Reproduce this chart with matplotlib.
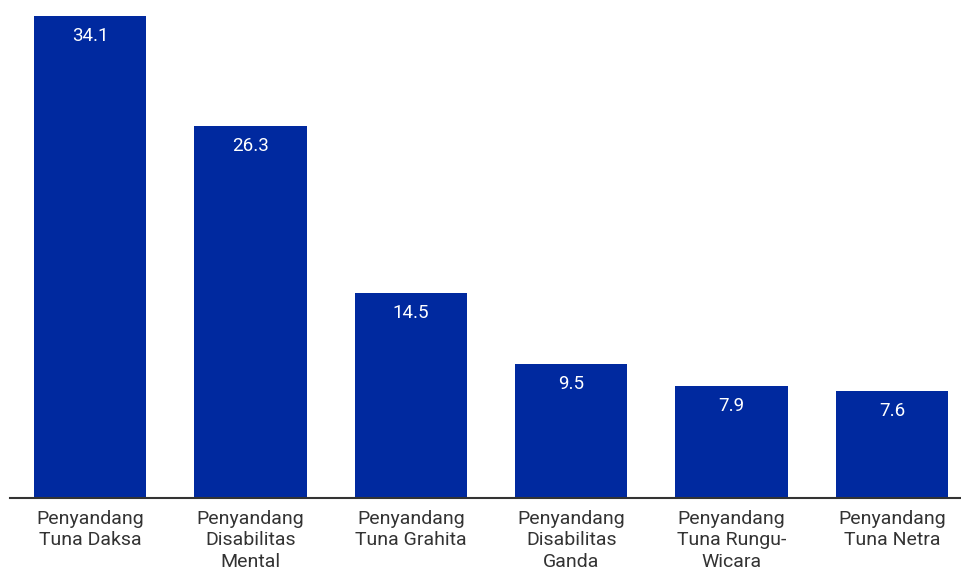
import matplotlib
matplotlib.use('Agg')
import matplotlib.pyplot as plt

categories = ['Penyandang\nTuna Daksa', 'Penyandang\nDisabilitas\nMental', 'Penyandang\nTuna Grahita',
              'Penyandang\nDisabilitas\nGanda', 'Penyandang\nTuna Rungu-\nWicara', 'Penyandang\nTuna Netra']
values = [34.1, 26.3, 14.5, 9.5, 7.9, 7.6]

plt.rcParams['font.family'] = ['Roboto', 'DejaVu Sans']

fig = plt.figure(figsize=(9.62, 5.68), dpi=100)
W, H = 962, 568
ax = fig.add_axes([9.8 / W, (H - 498) / H, 962.4 / W, 498 / H])

x = range(len(values))
bars = ax.bar(x, values, width=0.7, color='#00299f')
ax.set_xlim(-0.5, 5.5)
ax.set_ylim(0, 498 / 14.13)

for b, v in zip(bars, values):
    ax.annotate(f'{v}', (b.get_x() + b.get_width() / 2, v), xytext=(0, -20),
                textcoords='offset pixels', ha='center', va='center',
                color='white', fontsize=13.5)

ax.set_xticks(list(x))
ax.set_xticklabels(categories, fontsize=14, color='#333333', linespacing=1.25)
ax.tick_params(axis='x', length=0, pad=8.5)
ax.set_yticks([])
for s in ['top', 'right', 'left']:
    ax.spines[s].set_visible(False)
ax.spines['bottom'].set_color('#333333')
ax.spines['bottom'].set_linewidth(1.5)

fig.savefig('out.png', dpi=100)
